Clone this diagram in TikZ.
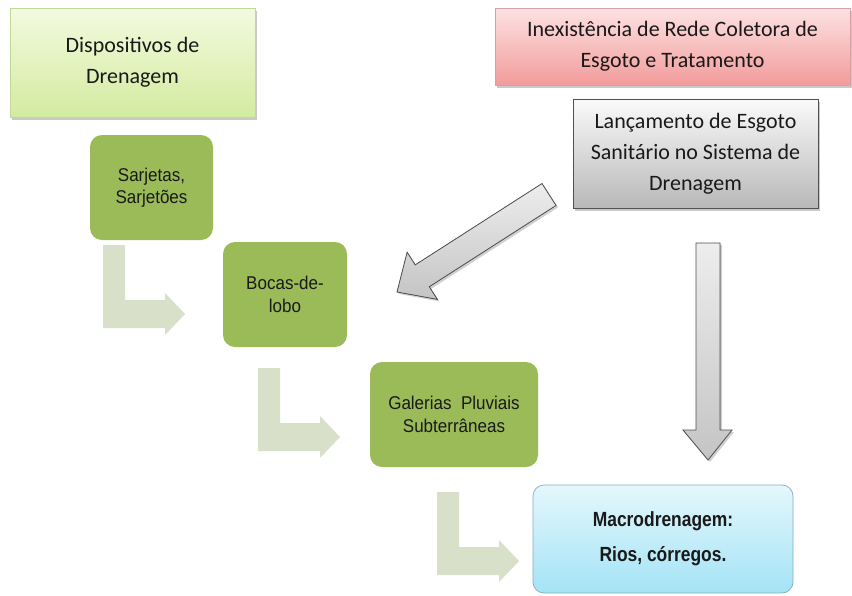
\documentclass[tikz,border=0pt]{standalone}
\usepackage{fontspec}
\setmainfont{Carlito}
\newfontfamily\arialf[FakeStretch=0.92]{Liberation Sans}
\newfontfamily\arialb[FakeStretch=0.85]{Liberation Sans}
\usetikzlibrary{calc,shadows}
\definecolor{dispTop}{HTML}{F3FADF}
\definecolor{dispBot}{HTML}{D3EBA0}
\definecolor{dispBorder}{HTML}{C2D79A}
\definecolor{pinkTop}{HTML}{FDE2E2}
\definecolor{pinkBot}{HTML}{F29B9B}
\definecolor{pinkBorder}{HTML}{D8A0A0}
\definecolor{grayTop}{HTML}{FAFAFA}
\definecolor{grayBot}{HTML}{B8B8B8}
\definecolor{grayBorder}{HTML}{505050}
\definecolor{oliveGreen}{HTML}{9BBB59}
\definecolor{bendFill}{HTML}{D8E0CA}
\definecolor{blueTop}{HTML}{E4F7FC}
\definecolor{blueBot}{HTML}{A4E3F6}
\definecolor{blueBorder}{HTML}{86AEBE}
\definecolor{arrowTop}{HTML}{EDEDED}
\definecolor{arrowBot}{HTML}{C4C4C4}
\tikzset{
  boxshadow/.style={drop shadow={shadow xshift=2pt,shadow yshift=-2.5pt,opacity=0.35,fill=black!60}},
  topbox/.style={rectangle, inner sep=0pt, align=center, boxshadow,
    font=\fontsize{22}{31}\selectfont, text=black!90},
  dispbox/.style={topbox, top color=dispTop, bottom color=dispBot, draw=dispBorder, line width=0.6pt},
  pinkbox/.style={topbox, top color=pinkTop, bottom color=pinkBot, draw=pinkBorder, line width=0.6pt},
  graybox/.style={topbox, top color=grayTop, bottom color=grayBot, draw=grayBorder, line width=0.8pt},
  greenbox/.style={rectangle, rounded corners=12pt, fill=oliveGreen, inner sep=0pt, align=center,
    font=\arialf\fontsize{18.5}{22.5}\selectfont, text=black!90},
  macrobox/.style={rectangle, rounded corners=11pt, top color=blueTop, bottom color=blueBot,
    draw=blueBorder, line width=0.7pt, inner sep=0pt, align=center,
    font=\arialb\bfseries\fontsize{20.5}{35}\selectfont, text=black!90},
  grayarrow/.style={top color=arrowTop, bottom color=arrowBot, draw=grayBorder, line width=0.8pt,
    line join=miter, drop shadow={shadow xshift=2pt,shadow yshift=-2pt,opacity=0.3,fill=black!60}},
  bendarrow/.pic={\fill[bendFill] (0,0) -- (22,0) -- (22,55) -- (62,55) -- (62,48) -- (82,69)
     -- (62,90) -- (62,83) -- (0,83) -- cycle;}
}
\begin{document}
\begin{tikzpicture}[x=1pt,y=-1pt]
\useasboundingbox (0,0) rectangle (852,595);
\fill[white] (0,0) rectangle (852,595);

% top boxes
\node[dispbox, minimum width=245pt, minimum height=109pt] (disp) at (132.5,62.5)
  {Dispositivos de\\Drenagem};
\node[pinkbox, minimum width=355pt, minimum height=77pt] (pink) at (672.5,46.5)
  {Inexistência de Rede Coletora de\\Esgoto e Tratamento};
\node[graybox, minimum width=245pt, minimum height=109pt] (gray) at (695.5,153.5)
  {Lançamento de Esgoto\\Sanitário no Sistema de\\Drenagem};

% green boxes
\node[greenbox, minimum width=123pt, minimum height=105pt] (sarj) at (151.5,187.5)
  {Sarjetas,\\Sarjetões};
\node[greenbox, minimum width=124pt, minimum height=105pt] (bocas) at (285,294.5)
  {Bocas-de-\\lobo};
\node[greenbox, minimum width=168pt, minimum height=105pt] (gal) at (454,414.5)
  {Galerias\ \ Pluviais\\Subterrâneas};
\node[macrobox, minimum width=260pt, minimum height=108pt] (macro) at (663,539)
  {Macrodrenagem:\\Rios, córregos.};

% bend arrows
\pic at (103,245) {bendarrow};
\pic at (258,368) {bendarrow};
\pic at (437,492) {bendarrow};

% diagonal block arrow
\coordinate (dt) at (549,194.5);
\coordinate (dh) at (397,292);
\coordinate (dhb) at ($(dh)!30pt!(dt)$);
\filldraw[grayarrow]
  ($(dt)!13pt!90:(dh)$) -- ($(dhb)!13pt!90:(dh)$) -- ($(dhb)!28pt!90:(dh)$) -- (dh)
  -- ($(dhb)!28pt!-90:(dh)$) -- ($(dhb)!13pt!-90:(dh)$) -- ($(dt)!13pt!-90:(dh)$) -- cycle;

% vertical block arrow
\coordinate (vt) at (708,243);
\coordinate (vh) at (708,460);
\filldraw[grayarrow]
  ($(vt)+(-12,0)$) -- ($(vt)+(12,0)$) -- ($(vh)+(12,-30)$) -- ($(vh)+(24,-30)$) -- (vh)
  -- ($(vh)+(-25,-30)$) -- ($(vh)+(-12,-30)$) -- cycle;
\end{tikzpicture}
\end{document}
